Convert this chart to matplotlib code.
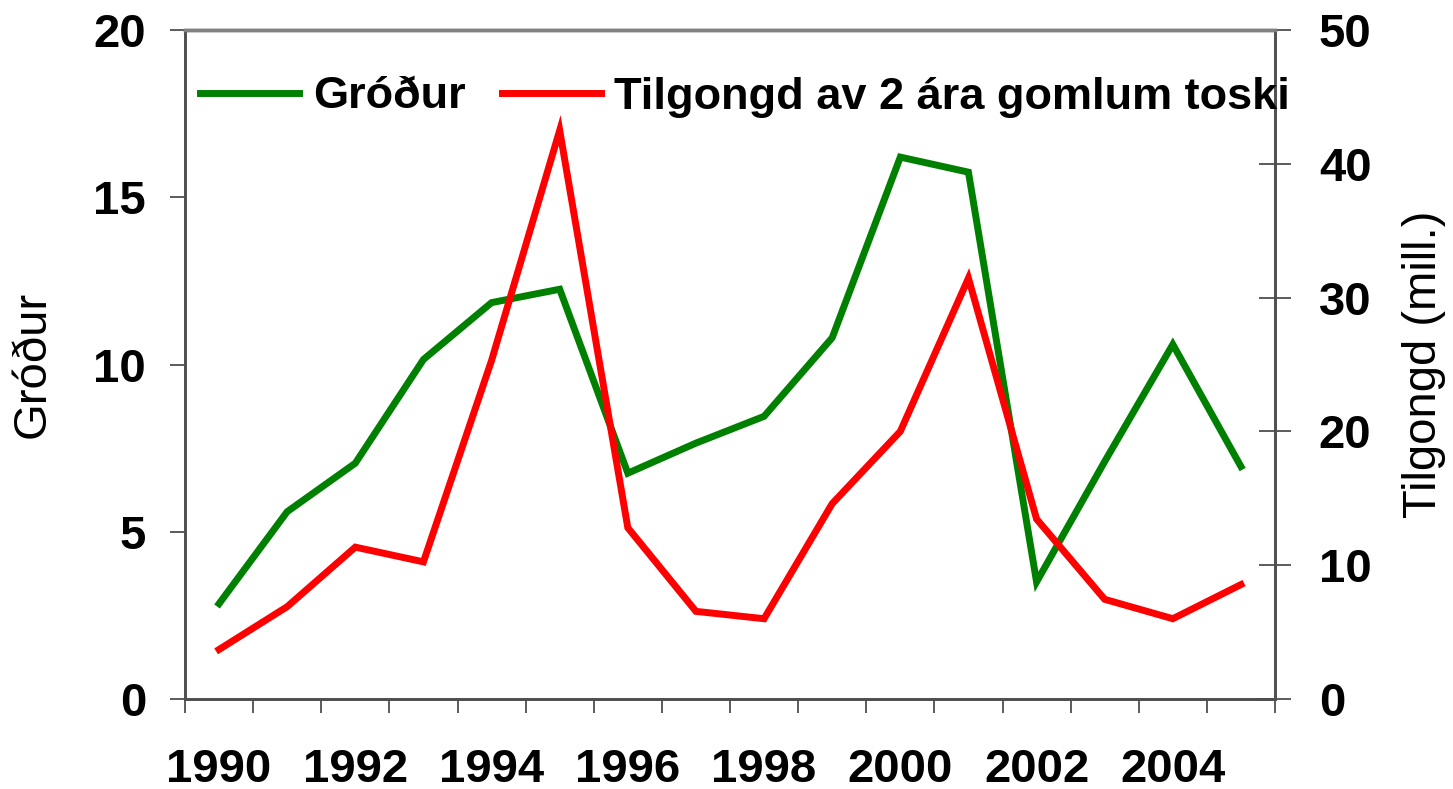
import matplotlib
matplotlib.use("Agg")
import matplotlib.pyplot as plt
import numpy as np

plt.rcParams['font.family'] = ['Liberation Sans', 'DejaVu Sans']

years = list(range(1990, 2006))
year_labels = [str(y) if y % 2 == 0 else '' for y in years]
grodur = [2.85, 5.6, 7.05, 10.15, 11.85, 12.25, 6.75, 7.65, 8.45, 10.8,
          16.2, 15.75, 3.5, 7.1, 10.6, 6.95]
tilgongd = [3.7, 6.9, 11.35, 10.25, 25.3, 42.5, 12.8, 6.55, 6.0, 14.6,
            20.0, 31.45, 13.45, 7.45, 6.0, 8.55]

fig = plt.figure(figsize=(14.53, 7.89), dpi=100)
ax = fig.add_axes([185 / 1453, 1 - 699 / 789, 1090 / 1453, 669 / 789])
ax2 = ax.twinx()

x = np.arange(len(years))
l1, = ax.plot(x, grodur, color='#008000', lw=5, solid_joinstyle='miter')
l2, = ax2.plot(x, tilgongd, color='#ff0000', lw=5, solid_joinstyle='miter')

ax.set_xlim(-0.5, len(years) - 0.5)
ax.set_ylim(0, 20)
ax2.set_ylim(0, 50)
ax.set_yticks([0, 5, 10, 15, 20])
ax2.set_yticks([0, 10, 20, 30, 40, 50])

# category ticks: labels at centres, tick marks at boundaries
ax.set_xticks(x)
ax.set_xticklabels(year_labels)
ax.set_xticks(np.arange(-0.5, len(years)), minor=True)
ax.tick_params(axis='x', which='major', length=0, pad=35)
ax.tick_params(axis='x', which='minor', length=10, width=1.2,
               direction='out', color='#404040')

for lab in ax.get_xticklabels() + ax.get_yticklabels() + ax2.get_yticklabels():
    lab.set_fontsize(34)
    lab.set_fontweight('bold')

ax.tick_params(axis='y', length=11, width=1.2, direction='out',
               color='#404040', pad=17)
ax2.tick_params(axis='y', length=23, width=1.2, direction='inout',
                color='#404040', pad=20)

for a in (ax, ax2):
    a.spines['top'].set_color('#808080')
    a.spines['top'].set_linewidth(2.5)
    for s in ('left', 'right', 'bottom'):
        a.spines[s].set_color('#505050')
        a.spines[s].set_linewidth(2)

ax.set_ylabel('Gróður', fontsize=34, labelpad=28)
ax2.set_ylabel('Tilgongd (mill.)', fontsize=34, labelpad=22)

fig.legend([l1, l2], ['Gróður', 'Tilgongd av 2 ára gomlum toski'],
           loc='center left', bbox_to_anchor=(200 / 1453, 1 - 97 / 789),
           ncol=2, frameon=False, borderpad=0, borderaxespad=0,
           handlelength=2.2, handletextpad=0.3, columnspacing=0.8,
           prop=dict(size=32.5, weight='bold'))

fig.savefig('out.png', dpi=100, facecolor='white')
